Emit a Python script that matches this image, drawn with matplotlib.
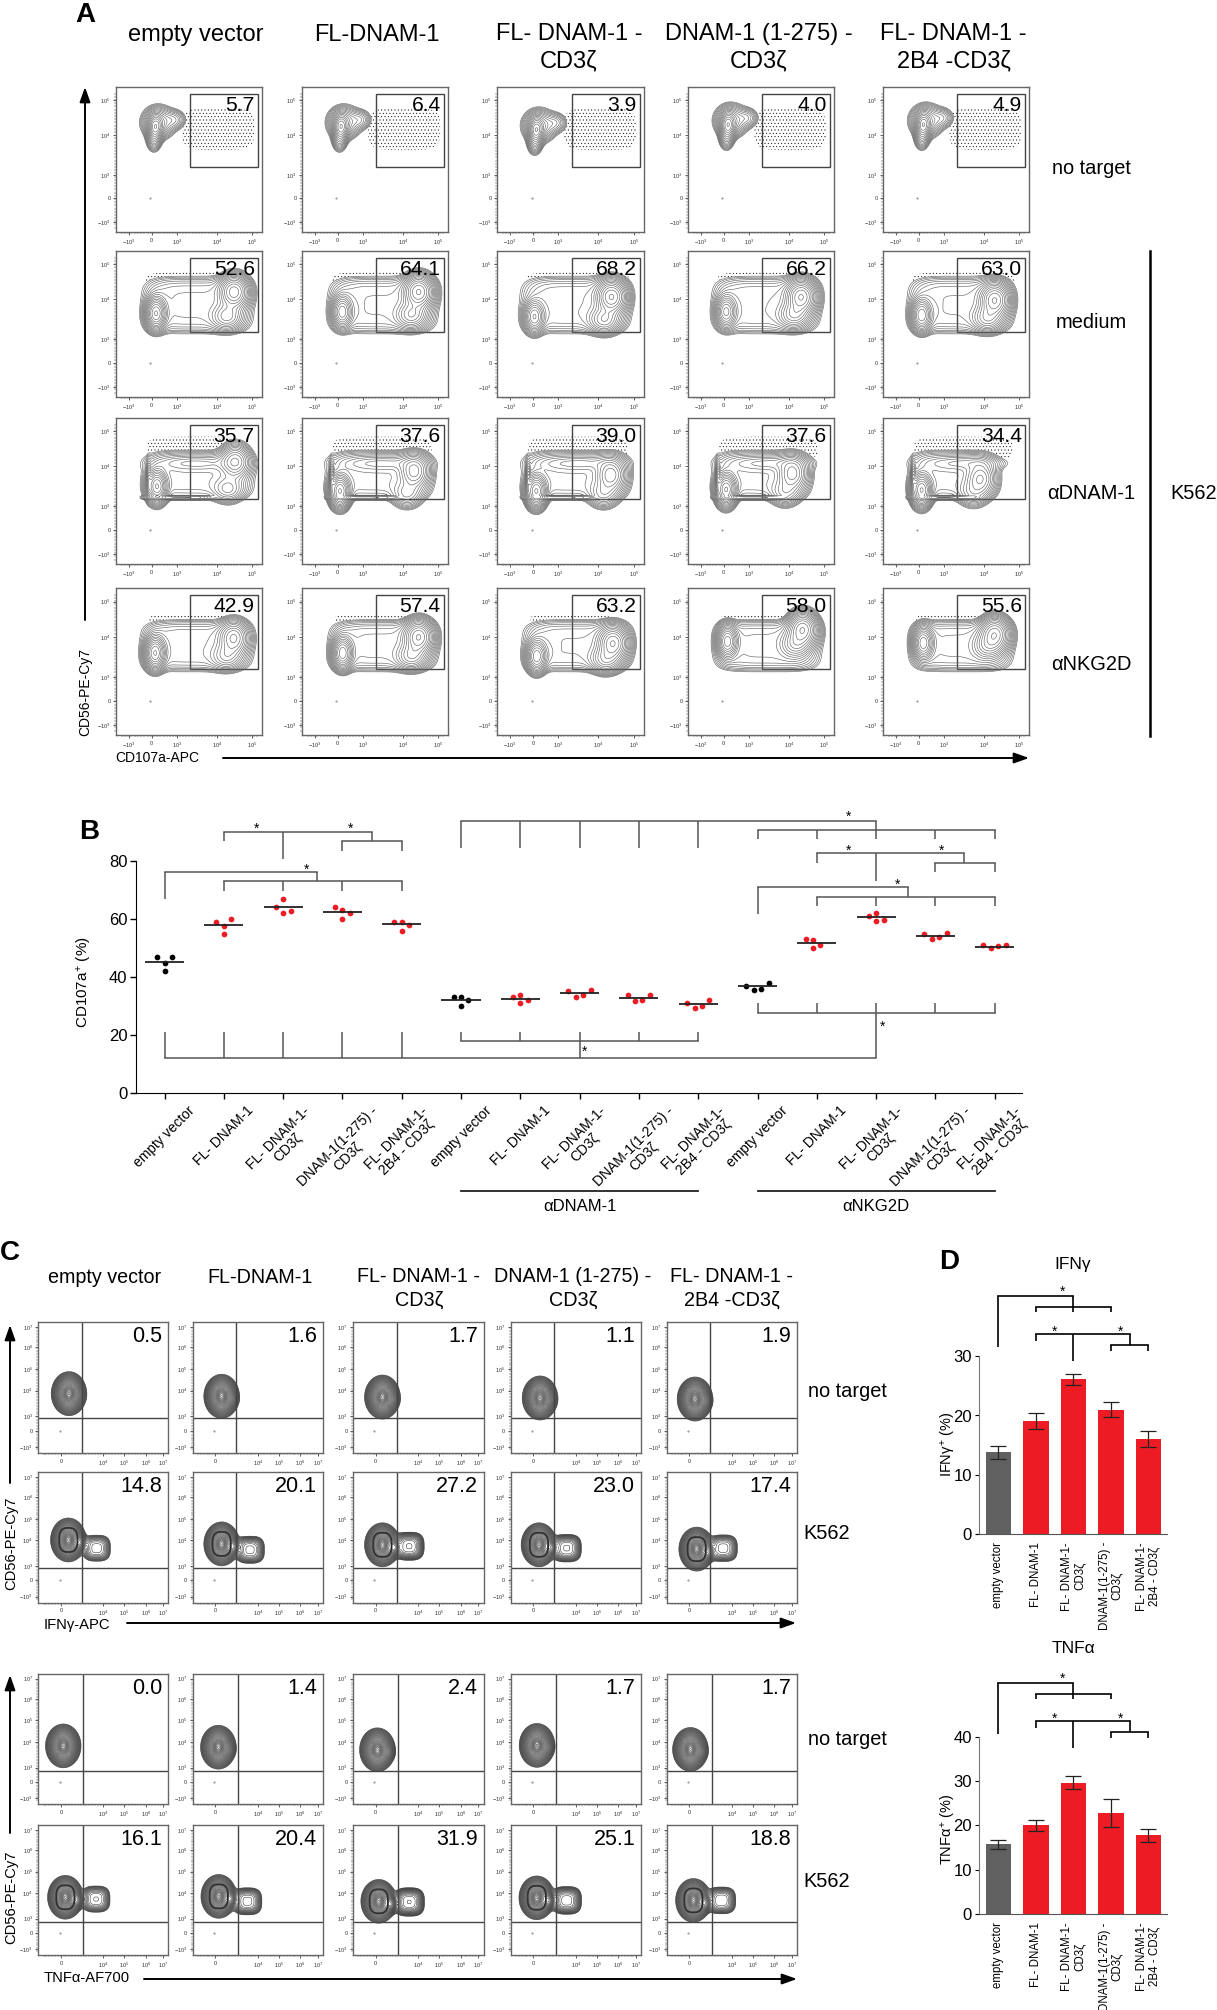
import numpy as np
import matplotlib
matplotlib.use('Agg')
import matplotlib.pyplot as plt
from matplotlib.patches import Rectangle

plt.rcParams['font.family'] = ['Liberation Sans', 'DejaVu Sans']
plt.rcParams['mathtext.default'] = 'regular'
plt.rcParams['hatch.linewidth'] = 0.3

W, H = 1217, 2010

# ---------- data ----------
constructs = ['empty vector', 'FL-DNAM-1', 'FL- DNAM-1 -\nCD3ζ',
              'DNAM-1 (1-275) -\nCD3ζ', 'FL- DNAM-1 -\n2B4 -CD3ζ']
short_labels = ['empty vector', 'FL- DNAM-1', 'FL- DNAM-1-\nCD3ζ',
                'DNAM-1(1-275) -\nCD3ζ', 'FL- DNAM-1-\n2B4 - CD3ζ']

# panel A, gate percentages, rows: no target, medium, aDNAM-1, aNKG2D
pct_notarget = [5.7, 6.4, 3.9, 4.0, 4.9]
pct_medium = [52.6, 64.1, 68.2, 66.2, 63.0]
pct_adnam = [35.7, 37.6, 39.0, 37.6, 34.4]
pct_ankg = [42.9, 57.4, 63.2, 58.0, 55.6]

# panel A, population peaks (axes fractions)
main_notarget = [(.27, .725), (.267, .725), (.267, .703), (.274, .737), (.276, .737)]
left_medium = [(.274, .573), (.275, .584), (.254, .55), (.261, .584), (.264, .561)]
right_medium = [(.81, .72), (.80, .72), (.78, .686), (.776, .686), (.766, .664)]
left_adnam = [(.28, .532), (.26, .498), (.267, .498), (.261, .509), (.264, .505)]
right_adnam = [(.817, .703), (.77, .635), (.775, .61), (.716, .62), (.668, .587)]
left_ankg = [(.268, .558), (.278, .558), (.27, .535), (.27, .637), (.276, .626)]
right_ankg = [(.807, .66), (.80, .667), (.79, .626), (.786, .72), (.766, .687)]

# panel B
b_values = [
    [46.9, 46.9, 45.0, 42.1], [59.0, 60.1, 57.6, 55.0], [66.8, 64.3, 62.1, 62.9],
    [64.0, 63.0, 62.1, 60.1], [59.0, 59.0, 58.1, 55.9],
    [33.2, 33.2, 32.0, 30.1], [33.2, 34.0, 32.0, 31.2], [35.1, 33.2, 34.0, 35.5],
    [33.7, 31.8, 32.0, 33.7], [31.0, 29.5, 30.1, 32.0],
    [37.1, 35.7, 35.9, 38.0], [53.1, 52.8, 51.1, 49.9], [60.9, 62.1, 59.8, 59.2],
    [54.7, 53.1, 53.9, 55.1], [51.2, 49.9, 50.6, 51.2],
]
b_means = [45.2, 57.8, 64.0, 62.4, 58.2, 32.0, 32.6, 34.5, 32.9, 30.6,
           36.8, 51.6, 60.7, 54.2, 50.5]
b_offsets = [
    [-.125, .125, 0, 0], [-.125, .125, 0, 0], [0, -.125, 0, .125],
    [-.125, 0, .125, 0], [-.125, 0, .125, 0], [-.125, 0, .125, 0],
    [-.125, 0, .125, 0], [-.19, -.06, .06, .19], [-.19, -.06, .06, .19],
    [-.19, -.06, .06, .19], [-.19, -.06, .06, .19], [-.19, -.06, .06, -.06],
    [-.125, 0, .125, 0], [-.19, -.06, .06, .19], [-.19, -.06, .06, .19],
]
b_colors = ['black', '#ed1c24', '#ed1c24', '#ed1c24', '#ed1c24'] * 3

# panel C
ifn_notarget = [0.5, 1.6, 1.7, 1.1, 1.9]
ifn_k562 = [14.8, 20.1, 27.2, 23.0, 17.4]
tnf_notarget = [0.0, 1.4, 2.4, 1.7, 1.7]
tnf_k562 = [16.1, 20.4, 31.9, 25.1, 18.8]

ifn_nt_main = [(.236, .453), (.222, .433), (.225, .427), (.225, .42), (.217, .412)]
ifn_k_main = [(.231, .48), (.222, .45), (.225, .443), (.217, .443), (.23, .41)]
ifn_k_second = [(.449, .417), (.44, .405), (.43, .432), (.43, .417), (.434, .417)]
tnf_nt_main = [(.192, .446), (.197, .436), (.187, .416), (.202, .45), (.182, .419)]
tnf_k_main = [(.208, .444), (.2, .451), (.197, .413), (.2, .44), (.205, .42)]
tnf_k_second = [(.444, .43), (.42, .413), (.43, .408), (.43, .42), (.42, .42)]

# panel D
ifn_means = [13.8, 19.0, 26.1, 21.0, 16.0]
ifn_err = [1.1, 1.35, 1.0, 1.2, 1.3]
tnf_means = [15.7, 20.0, 29.7, 22.8, 17.8]
tnf_err = [1.0, 1.3, 1.4, 3.1, 1.5]
d_colors = ['#606060', '#ed1c24', '#ed1c24', '#ed1c24', '#ed1c24']

# ---------- layout ----------
fig = plt.figure(figsize=(W / 100, H / 100), dpi=100, facecolor='white')


def pixel_axes(l, t, r, b):
    return fig.add_axes([l / W, 1 - b / H, (r - l) / W, (b - t) / H])


over = fig.add_axes([0, 0, 1, 1], zorder=20)
over.set_xlim(0, W)
over.set_ylim(H, 0)
over.axis('off')
over.patch.set_alpha(0)


def txt(x, y, s, size, **kw):
    kw.setdefault('ha', 'center')
    kw.setdefault('va', 'center')
    over.text(x, y, s, fontsize=size, **kw)


def arrow(x0, y0, x1, y1):
    over.annotate('', xy=(x1, y1), xytext=(x0, y0),
                  arrowprops=dict(arrowstyle='-|>,head_length=0.9,head_width=0.32',
                                  color='black', lw=1.4, shrinkA=0, shrinkB=0))


gx = np.linspace(0, 1, 220)
X, Y = np.meshgrid(gx, gx)


def blob(cx, cy, sx, sy, w, p=1):
    return w * np.exp(-(np.abs((X - cx) / sx) ** (2 * p) + np.abs((Y - cy) / sy) ** (2 * p)))


def flow_frame(ax, xt, xl, yt, yl):
    ax.set_xlim(0, 1)
    ax.set_ylim(0, 1)
    ax.set_xticks(xt, xl, fontsize=4, color='#333333')
    ax.set_yticks(yt, yl, fontsize=4, color='#333333')
    ax.tick_params(length=2.5, width=0.6, pad=1.5, color='#444444')
    ax.set_xticks(np.arange(0.04, 0.98, 0.022), minor=True)
    ax.set_yticks(np.arange(0.03, 0.96, 0.022), minor=True)
    ax.tick_params(which='minor', length=1.2, width=0.35, color='#444444')
    for s in ax.spines.values():
        s.set_linewidth(1.0)
        s.set_color('#666666')


# ---------- panel A ----------
a_cols = [(116, 262), (302, 448), (497, 644), (688, 834), (883, 1029)]
a_rows = [(87, 232), (251, 397), (418, 564), (588, 735)]
a_xt = [.087, .245, .415, .69, .93]
a_xl = ['$-10^3$', '0', '$10^3$', '$10^4$', '$10^5$']
a_yt = [.908, .668, .394, .233, .066]
a_yl = ['$10^5$', '$10^4$', '$10^3$', '0', '$-10^3$']
a_stipple = [(.70, .71, .27, .16), (.55, .80, .38, .06), (.55, .79, .37, .09), (.5, .79, .3, .03)]
a_pcts = [pct_notarget, pct_medium, pct_adnam, pct_ankg]

for r, (top, bot) in enumerate(a_rows):
    for c, (lft, rgt) in enumerate(a_cols):
        ax = pixel_axes(lft, top, rgt, bot)
        flow_frame(ax, a_xt, a_xl, a_yt, a_yl)
        pct = a_pcts[r][c]
        if r == 0:
            cx, cy = main_notarget[c]
            Z = blob(cx, cy, .035, .06, 1.0) + blob(cx + .02, cy + .03, .075, .075, .4)
            Z += blob(cx + .13, cy + .05, .055, .05, .14)
            Z += blob(cx - .01, cy - .08, .035, .06, .25)
        else:
            lx, ly = [left_medium, left_adnam, left_ankg][r - 1][c]
            rx, ry = [right_medium, right_adnam, right_ankg][r - 1][c]
            ecy, esy = [(.63, .175), (.61, .15), (.607, .157)][r - 1]
            Z = blob((lx + rx) / 2 + .015, ecy, (rx - lx) / 2 + .07, esy, .11, p=2.2)
            Z += blob(lx, ly, .05, .08, (100 - pct) / 55)
            Z += blob(rx, ry, .075, .085, pct / 70)
            Z += blob(rx - .05, ly - .02, .08, .07, pct / 170)
            if r == 2:
                Z += blob(.43, ecy - .155, .2, .012, .3, p=2)
                Z += blob(lx - .055, ecy - .03, .012, .09, .28)
                Z += blob(.55, ecy + .08, .22, .04, .12)
        S = blob(*a_stipple[r], 1.0, p=2)
        ax.contourf(X, Y, np.ma.masked_where(Z > .02, S), levels=[.5, 2], colors='none',
                    hatches=['.....'])
        ax.contour(X, Y, Z, levels=np.geomspace(.02, Z.max() * .96, 17),
                   colors='#666666', linewidths=0.45)
        ax.plot(a_xt[1] - .01, a_yt[3], '.', ms=1, color='#888888')
        ax.add_patch(Rectangle((.51, .446), .466, .508, fill=False, ec='#444444', lw=1.0))
        ax.text(.95, .875, f'{pct:.1f}', fontsize=15.2, ha='right', va='center')

for x, s in zip([196, 376.5, 569, 759, 953.6], constructs):
    txt(x, 35 if '\n' not in s else 48, s, 17, linespacing=1.3)
for y, s in zip([168, 322, 493, 664], ['no target', 'medium', 'αDNAM-1', 'αNKG2D']):
    txt(1091, y, s, 14.4)
txt(1194, 493, 'K562', 14.4)
over.plot([1150, 1150], [251, 736], color='black', lw=1.8)
txt(85, 15, 'A', 20, fontweight='bold')
arrow(85, 620, 85, 87)
txt(85, 692, 'CD56-PE-Cy7', 10, rotation=90)
txt(115.5, 758, 'CD107a-APC', 10, ha='left')
arrow(223, 758, 1029, 758)

# ---------- panel B ----------
axb = pixel_axes(135.8, 861, 1021.6, 1093.3)
for i, (vals, offs, col) in enumerate(zip(b_values, b_offsets, b_colors)):
    axb.scatter(np.array(offs) + i, vals, s=17, color=col, zorder=3, linewidths=0)
    axb.hlines(b_means[i], i - .33, i + .33, color='#222222', lw=1.3, zorder=4)
axb.set_xlim(-0.484, 14.453)
axb.set_ylim(0, 80)
axb.set_yticks([0, 20, 40, 60, 80])
axb.set_xticks(range(15))
axb.set_xticklabels(short_labels * 3, rotation=45, ha='center', va='top',
                    multialignment='center', fontsize=10, linespacing=1.0)
axb.tick_params(axis='y', labelsize=12, length=4, width=1, pad=2)
axb.tick_params(axis='x', length=4, width=1, pad=3.5)
axb.spines['top'].set_visible(False)
axb.spines['right'].set_visible(False)
txt(85, 982, 'CD107a$^{+}$ (%)', 11, rotation=90)
txt(88.7, 832, 'B', 20, fontweight='bold')


def bx(i):
    return 164.5 + 59.3 * i


def bracket(y, x0, x1, drops, fx=bx, color='#555555', lw=1.1):
    # horizontal bar with vertical legs, legs given as (position, end y)
    over.plot([fx(x0), fx(x1)], [y, y], color=color, lw=lw, solid_capstyle='projecting')
    for pos, yend in drops:
        over.plot([fx(pos), fx(pos)], [y, yend], color=color, lw=lw, solid_capstyle='butt')


bracket(831.7, 1, 3.5, [(1, 841), (2, 859), (3.5, 841)])
bracket(841, 3, 4, [(3, 850.5), (4, 850.5)])
bracket(872, 0, 2.57, [(0, 899), (2.57, 881)])
bracket(881, 1, 4, [(1, 891), (2, 891), (3, 891), (4, 891)])
bracket(1058, 0, 12, [(0, 1032), (1, 1032), (2, 1032), (3, 1032), (4, 1032),
                      (7, 1041), (12, 1012.7)])
bracket(1041, 5, 9, [(5, 1032), (6, 1032), (7, 1032), (8, 1032), (9, 1032)])
bracket(820.7, 5, 12, [(5, 848), (6, 848), (7, 848), (8, 848), (9, 848), (12, 830)])
bracket(830, 10, 14, [(10, 839), (11, 839), (12, 839), (13, 839), (14, 839)])
bracket(853, 11, 13.49, [(11, 862.7), (12, 880.5), (13.49, 862.7)])
bracket(862.7, 13, 14, [(13, 871.5), (14, 871.5)])
bracket(887, 10, 12.54, [(10, 914), (12.54, 896.7)])
bracket(896.7, 11, 14, [(11, 905.5), (12, 905.5), (13, 905.5), (14, 905.5)])
bracket(1012.7, 10, 14, [(10, 1002.5), (11, 1002.5), (12, 1002.5), (13, 1002.5), (14, 1002.5)])
for i, y in [(1.55, 829), (3.14, 829), (2.39, 870), (7.09, 1052), (11.53, 817),
             (11.53, 851), (13.1, 851), (12.36, 885), (12.1, 1027)]:
    txt(bx(i), y, '*', 10)
over.plot([bx(5), bx(9)], [1190.7, 1190.7], color='#222222', lw=1.3)
over.plot([bx(10), bx(14)], [1190.7, 1190.7], color='#222222', lw=1.3)
txt(bx(7), 1206, 'αDNAM-1', 12)
txt(bx(12), 1206, 'αNKG2D', 12)

# ---------- panel C ----------
c_cols = [(38.3, 168.3), (192.7, 323), (353, 483.7), (510.7, 641), (666.7, 797)]
c_rows = [(1322, 1453), (1472, 1602.7), (1673.7, 1804), (1825, 1955)]
c_xt = [.174, .5, .659, .826, .96]
c_xl = ['0', '$10^4$', '$10^5$', '$10^6$', '$10^7$']
c_yt = [.962, .807, .641, .476, .28, .17, .046]
c_yl = ['$10^7$', '$10^6$', '$10^5$', '$10^4$', '$10^3$', '0', '$-10^3$']
c_pcts = [ifn_notarget, ifn_k562, tnf_notarget, tnf_k562]
c_mains = [ifn_nt_main, ifn_k_main, tnf_nt_main, tnf_k_main]
c_seconds = [None, ifn_k_second, None, tnf_k_second]
c_quad = [(.333, .265), (.333, .265), (.344, .255), (.344, .255)]

for r, (top, bot) in enumerate(c_rows):
    for c, (lft, rgt) in enumerate(c_cols):
        ax = pixel_axes(lft, top, rgt, bot)
        flow_frame(ax, c_xt, c_xl, c_yt, c_yl)
        pct = c_pcts[r][c]
        cx, cy = c_mains[r][c]
        Z = blob(cx, cy, .065, .08, 1.0)
        Z += blob(cx, cy, .025, .035, 1.6)
        Z += blob(cx + .09, cy - .02, .03, .04, pct / 60)
        if c_seconds[r] is not None:
            sx, sy = c_seconds[r][c]
            Z += blob(sx, sy, .08, .075, pct / 120, p=1.5)
            # thick dense ring around the main population
            ring = blob(cx, cy, .08, .105, 1.0, p=1.4)
            ax.contour(X, Y, ring, levels=[.5], colors='#222222', linewidths=1.3)
        ax.contour(X, Y, Z, levels=np.geomspace(.012, Z.max() * .95, 32),
                   colors='#3a3a3a', linewidths=0.4)
        qx, qy = c_quad[r]
        ax.axvline(qx, color='#444444', lw=1.0)
        ax.axhline(qy, color='#444444', lw=1.0)
        ax.plot(c_xt[0] - .01, c_yt[5], '.', ms=1, color='#888888')
        ax.text(.955, .887, f'{pct:.1f}', fontsize=15.5, ha='right', va='center')

for x, s in zip([105, 260, 418.7, 573, 731.7], constructs):
    txt(x, 1277 if '\n' not in s else 1288, s, 14.2, linespacing=1.3)
for y, s, x in [(1391, 'no target', 847), (1533, 'K562', 826.7),
                (1739, 'no target', 847), (1881, 'K562', 826.7)]:
    txt(x, y, s, 14.4)
txt(10, 1253, 'C', 20, fontweight='bold')
arrow(10, 1483, 10, 1325)
arrow(10, 1833, 10, 1675)
txt(11, 1543, 'CD56-PE-Cy7', 10.6, rotation=90)
txt(11, 1897, 'CD56-PE-Cy7', 10.6, rotation=90)
txt(44, 1625, 'IFNγ-APC', 10.6, ha='left')
txt(44, 1978, 'TNFα-AF700', 10.6, ha='left')
arrow(127, 1623, 796, 1623)
arrow(144, 1979, 797, 1979)

# ---------- panel D ----------
d_panels = [
    (1356.4, 1533.7, 30, [0, 10, 20, 30], ifn_means, ifn_err, 'IFNγ$^{+}$ (%)', 1264.5, 'IFNγ', 1444),
    (1737, 1913.9, 40, [0, 10, 20, 30, 40], tnf_means, tnf_err, 'TNFα$^{+}$ (%)', 1648.6, 'TNFα', 1829),
]


def dx(i):
    return 998.3 + 37.5 * i


for top, bot, ymax, yt, means, errs, ylab, ty, title, ly in d_panels:
    ax = pixel_axes(979, top, 1166.7, bot)
    ax.bar(range(5), means, width=.68, color=d_colors,
           yerr=errs, ecolor='#222222', capsize=5.5, error_kw=dict(lw=0.9, capthick=0.9))
    ax.set_xlim((979 - 998.3) / 37.5, (1166.7 - 998.3) / 37.5)
    ax.set_ylim(0, ymax)
    ax.set_yticks(yt)
    ax.set_xticks(range(5))
    ax.set_xticklabels(short_labels, rotation=90, ha='center', va='top',
                       multialignment='center', fontsize=8.3, linespacing=1.05)
    ax.tick_params(axis='y', labelsize=12, length=3, width=0.8, pad=2)
    ax.tick_params(axis='x', length=0, pad=6)
    ax.spines['top'].set_visible(False)
    ax.spines['right'].set_visible(False)
    ax.spines['left'].set_color('#777777')
    ax.spines['bottom'].set_color('#555555')
    txt(948, ly, ylab, 10.5, rotation=90)
    txt(1073, ty, title, 12.5)

for y0 in [1240, 1627]:
    def yy(v):
        return y0 + v / 2.036
    bracket(yy(114), 0, 2, [(0, yy(218)), (2, yy(136))], fx=dx, color='black', lw=1.2)
    bracket(yy(136), 1, 3, [(1, yy(146)), (2, yy(146)), (3, yy(146))], fx=dx, color='black', lw=1.2)
    bracket(yy(192), 1, 3.5, [(1, yy(205)), (2, yy(246)), (3.5, yy(214))], fx=dx, color='black', lw=1.2)
    bracket(yy(214), 3, 4, [(3, yy(226)), (4, yy(226))], fx=dx, color='black', lw=1.2)
    txt(dx(1.7), yy(106), '*', 10)
    txt(dx(1.49), yy(186), '*', 10)
    txt(dx(3.25), yy(186), '*', 10)
txt(949, 1262, 'D', 20, fontweight='bold')

fig.savefig('out.png', dpi=100)
